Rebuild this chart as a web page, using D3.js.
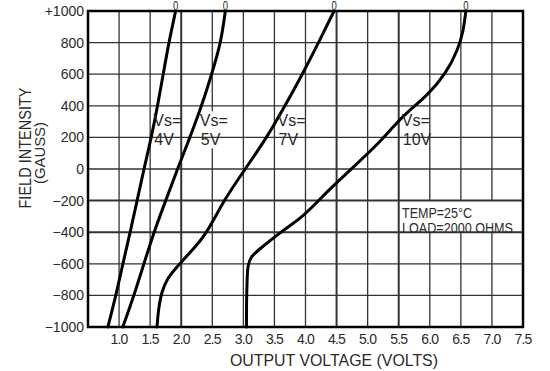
<html>
<head>
  <script src="https://d3js.org/d3.v7.min.js"></script>
  <style>
    body { margin: 0; background: white; }
    text { font-family: "Liberation Sans", Arial, sans-serif; fill: #2a2a2a; }
  </style>
</head>
<body>
  <div id="chart"></div>
  <script>
    // axis ticks
    var xTicks = [1.0, 1.5, 2.0, 2.5, 3.0, 3.5, 4.0, 4.5, 5.0, 5.5, 6.0, 6.5, 7.0, 7.5];
    var xGrid = [1.0, 1.5, 2.0, 2.5, 3.0, 3.5, 4.0, 4.5, 5.0, 5.5, 6.0, 6.5, 7.0];
    var yTicks = [1000, 800, 600, 400, 200, 0, -200, -400, -600, -800, -1000];
    var yTickLabels = ["+1000", "800", "600", "400", "200", "0", "\u2212200", "\u2212400", "\u2212600", "\u2212800", "\u22121000"];

    // curves: output voltage (V) vs field (gauss), per supply voltage
    var seriesNames = ["4V", "5V", "7V", "10V"];
    var vs4 = [[0.82,-1000],[0.95,-800],[1.06,-600],[1.18,-400],[1.29,-200],[1.40,0],[1.52,200],[1.62,400],[1.71,600],[1.80,800],[1.91,1000]];
    var vs5 = [[1.06,-1000],[1.24,-800],[1.40,-600],[1.56,-400],[1.75,-200],[1.94,0],[2.14,200],[2.33,400],[2.49,600],[2.64,800],[2.71,1000]];
    var vs7 = [[1.61,-1000],[1.63,-900],[1.68,-780],[1.78,-690],[1.91,-629],[2.13,-533],[2.40,-418],[2.68,-200],[3.03,0],[3.38,200],[3.67,400],[3.95,600],[4.21,800],[4.46,1000]];
    var vs10 = [[3.05,-1000],[3.05,-850],[3.06,-700],[3.07,-610],[3.12,-555],[3.25,-510],[3.58,-405],[3.95,-304],[4.17,-215],[4.49,-89],[5.19,165],[5.40,265],[5.67,373],[5.95,460],[6.27,610],[6.45,753],[6.54,870],[6.58,1000]];
    var allSeries = [vs4, vs5, vs7, vs10];

    var W = 550, H = 371;
    var pLeft = 88, pRight = 523, pTop = 11, pBottom = 327;

    var x = d3.scaleLinear().domain([0.5, 7.5]).range([pLeft, pRight]);
    var y = d3.scaleLinear().domain([-1000, 1000]).range([pBottom, pTop]);

    var svg = d3.select("#chart").append("svg")
      .attr("width", W).attr("height", H);

    // heavier-looking grid lines in the scan
    var heavyX = [2.0, 4.5, 5.5];
    var heavyY = [-200, -400];

    // vertical grid
    svg.append("g").selectAll("line").data(xGrid).enter().append("line")
      .attr("x1", d => x(d)).attr("x2", d => x(d))
      .attr("y1", pTop).attr("y2", pBottom)
      .attr("stroke", "#333")
      .attr("stroke-width", d => heavyX.indexOf(d) >= 0 ? 2 : 1.3);

    // white box behind the temp/load note
    svg.append("rect")
      .attr("x", x(5.5) + 1.5).attr("y", y(-200))
      .attr("width", pRight - x(5.5) - 3).attr("height", y(-400) - y(-200))
      .attr("fill", "white");

    // series label positions (the 5V one blanks the grid line behind it)
    var labelPos = [[1.55, 270], [2.3, 270], [3.55, 270], [5.55, 270]];
    svg.append("rect")
      .attr("x", x(labelPos[1][0]) - 2).attr("y", y(labelPos[1][1]) - 15)
      .attr("width", 32).attr("height", 37)
      .attr("fill", "white");

    // horizontal grid
    svg.append("g").selectAll("line").data(yTicks.slice(1, -1)).enter().append("line")
      .attr("x1", pLeft).attr("x2", pRight)
      .attr("y1", d => y(d)).attr("y2", d => y(d))
      .attr("stroke", "#333")
      .attr("stroke-width", d => heavyY.indexOf(d) >= 0 ? 2 : 1.3);

    // frame
    svg.append("rect")
      .attr("x", pLeft).attr("y", pTop)
      .attr("width", pRight - pLeft).attr("height", pBottom - pTop)
      .attr("fill", "none").attr("stroke", "#000").attr("stroke-width", 2.5);

    // curves
    var line = d3.line()
      .x(d => x(d[0])).y(d => y(d[1]))
      .curve(d3.curveBasis);
    svg.append("g").selectAll("path").data(allSeries).enter().append("path")
      .attr("d", line)
      .attr("fill", "none")
      .attr("stroke", "#000")
      .attr("stroke-width", 3)
      .attr("stroke-linecap", "round");

    // small "0" at the top end of each curve
    svg.append("g").selectAll("text").data(allSeries).enter().append("text")
      .attr("x", 0)
      .attr("y", 10)
      .attr("text-anchor", "middle")
      .attr("font-size", 12)
      .attr("transform", d => "translate(" + x(d[d.length - 1][0]) + ",0) scale(0.8,1)")
      .text("0");

    // series labels
    seriesNames.forEach(function(name, i) {
      var lx = x(labelPos[i][0]), ly = y(labelPos[i][1]);
      svg.append("text").attr("x", lx).attr("y", ly)
        .attr("font-size", 16).text("Vs=");
      svg.append("text").attr("x", lx + 1).attr("y", ly + 19)
        .attr("font-size", 16).text(name);
    });

    // note
    svg.append("text").attr("x", 402).attr("y", 218)
      .attr("font-size", 14).attr("textLength", 70).attr("lengthAdjust", "spacingAndGlyphs")
      .text("TEMP=25\u00B0C");
    svg.append("text").attr("x", 402).attr("y", 233)
      .attr("font-size", 14).attr("textLength", 111).attr("lengthAdjust", "spacingAndGlyphs")
      .text("LOAD=2000 OHMS");

    // y tick labels
    svg.append("g").selectAll("text").data(yTicks).enter().append("text")
      .attr("x", 84)
      .attr("y", d => y(d) + 5)
      .attr("text-anchor", "end")
      .attr("font-size", 14)
      .text((d, i) => yTickLabels[i]);

    // x tick labels
    svg.append("g").selectAll("text").data(xTicks).enter().append("text")
      .attr("x", d => x(d))
      .attr("y", 344)
      .attr("text-anchor", "middle")
      .attr("font-size", 14)
      .attr("letter-spacing", -0.8)
      .text(d => d.toFixed(1));

    // axis titles
    svg.append("text")
      .attr("x", 334).attr("y", 366)
      .attr("text-anchor", "middle")
      .attr("font-size", 17)
      .attr("textLength", 208).attr("lengthAdjust", "spacingAndGlyphs")
      .text("OUTPUT VOLTAGE (VOLTS)");

    svg.append("text")
      .attr("transform", "translate(31,148) rotate(-90)")
      .attr("text-anchor", "middle")
      .attr("font-size", 17)
      .attr("textLength", 121).attr("lengthAdjust", "spacingAndGlyphs")
      .text("FIELD INTENSITY");
    svg.append("text")
      .attr("transform", "translate(45,153) rotate(-90)")
      .attr("text-anchor", "middle")
      .attr("font-size", 15)
      .attr("textLength", 62).attr("lengthAdjust", "spacingAndGlyphs")
      .text("(GAUSS)");
  </script>
</body>
</html>
